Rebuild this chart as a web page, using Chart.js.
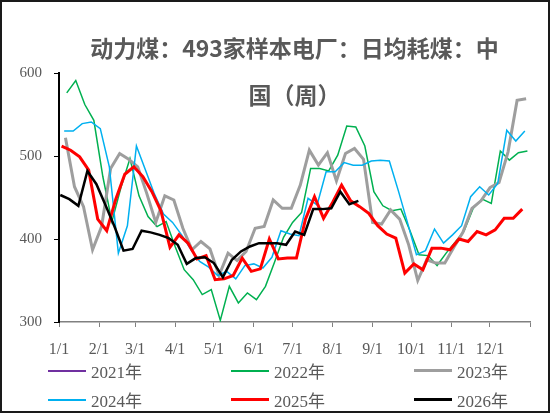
<!DOCTYPE html>
<html>
<head>
<meta charset="utf-8">
<script src="https://cdn.jsdelivr.net/npm/chart.js@4.4.1/dist/chart.umd.min.js"></script>
<style>
  html, body { margin: 0; padding: 0; background: #fff; }
  #wrap { position: relative; width: 550px; height: 413px; overflow: hidden; background: #fff; }
  #chart { position: absolute; left: 0; top: 0; }
  #frame { position: absolute; inset: 0; border: 2px solid #1a1a1a; pointer-events: none; }
  #title {
    position: absolute; left: 59px; width: 471px; top: 24px;
    text-align: center;
    font: bold 23px "Noto Sans CJK SC", sans-serif; color: #595959;
    line-height: 47px;
  }
  #legend {
    position: absolute; left: 48px; top: 356px;
    display: grid; grid-template-columns: repeat(3, 183px); grid-auto-rows: 29px;
  }
  #legend .item { display: flex; align-items: center; }
  #legend .swatch { width: 38px; margin-right: 5px; }
  #legend .text { font: 17px "Liberation Serif", "Noto Sans CJK SC", serif; color: #595959; }
</style>
</head>
<body>
<div id="wrap">
  <canvas id="chart" width="550" height="413"></canvas>
  <div id="title"></div>
  <div id="legend"></div>
  <div id="frame"></div>
</div>
<script>
// 标题和坐标轴
const titleLines = ['动力煤：493家样本电厂：日均耗煤：中', '国（周）'];
const monthLabels = ['1/1', '2/1', '3/1', '4/1', '5/1', '6/1', '7/1', '8/1', '9/1', '10/1', '11/1', '12/1'];
const monthStartDays = [0, 31, 59, 90, 120, 151, 181, 212, 243, 273, 304, 334];
const daysInYear = 365;
const yTicks = [300, 400, 500, 600];

// 每年一条线，周度数据（第一个周五的年内天数）
const seriesNames = ['2021年', '2022年', '2023年', '2024年', '2025年', '2026年'];
const firstReadingDay = [0, 6, 5, 4, 2, 1];

const values2021 = [];
const values2022 = [576, 591, 562, 543, 475, 421, 462, 497, 452, 427, 415, 421, 391, 363, 351, 333, 339, 302, 343, 323,
  335, 327, 343, 372, 402, 420, 432, 485, 485, 482, 501, 536, 535, 512, 457, 440, 434, 436, 410, 381,
  380, 368, 383, 396, 410, 437, 448, 443, 506, 495, 504, 506];
const values2023 = [522, 463, 439, 387, 415, 485, 503, 496, 487, 455, 420, 452, 447, 413, 387, 397, 388, 356, 383, 374,
  385, 413, 415, 447, 437, 437, 465, 507, 489, 504, 470, 503, 509, 496, 420, 418, 435, 424, 393, 350,
  375, 371, 371, 390, 408, 437, 446, 462, 468, 505, 567, 569];
const values2024 = [530, 530, 539, 541, 533, 487, 383, 416, 512, 483, 454, 430, 420, 405, 388, 373, 366, 356, 361, 352,
  368, 370, 365, 378, 410, 406, 404, 449, 441, 481, 481, 492, 489, 489, 494, 495, 494, 458, 420, 381,
  386, 412, 395, 405, 416, 451, 463, 453, 467, 531, 518, 530];
const values2025 = [512, 507, 499, 483, 424, 410, 448, 478, 487, 475, 457, 434, 390, 405, 395, 376, 380, 351, 352, 356,
  377, 361, 364, 400, 376, 377, 377, 424, 451, 425, 444, 465, 446, 439, 431, 416, 406, 401, 359, 370,
  363, 389, 389, 387, 400, 397, 409, 405, 411, 425, 425, 436];
const values2026 = [453, 448, 440, 482, 466, 441, 415, 386, 388, 410, 408, 405, 401, 393, 370, 377, 378, 371, 354, 375,
  385, 391, 395, 395, 395, 393, 409, 405, 436, 436, 437, 457, 442, 446];

const allValues = [values2021, values2022, values2023, values2024, values2025, values2026];
const lineColors = ['#7030a0', '#00b050', '#9e9e9e', '#00b0f0', '#ff0000', '#000000'];
const lineWidths = [1.5, 1.5, 3, 1.5, 3, 2.5];

function toPoints(values, startDay) {
  return values.map((v, i) => ({ x: startDay + 7 * i, y: v }));
}

const datasets = seriesNames.map((name, k) => ({
  label: name,
  data: toPoints(allValues[k], firstReadingDay[k]),
  borderColor: lineColors[k],
  backgroundColor: lineColors[k],
  borderWidth: lineWidths[k],
  order: seriesNames.length - k   // 后面的年份画在上面
}));

const axisFont = { family: '"Liberation Serif", serif', size: 16 };

const chart = new Chart(document.getElementById('chart'), {
  type: 'line',
  data: { datasets },
  options: {
    responsive: false,
    animation: false,
    layout: { padding: { top: 73, right: 20, bottom: 0, left: 0 } },
    plugins: { legend: { display: false }, tooltip: { enabled: false }, title: { display: false } },
    elements: { point: { radius: 0 }, line: { tension: 0 } },
    scales: {
      x: {
        type: 'linear', min: 0, max: daysInYear,
        afterBuildTicks: s => { s.ticks = monthStartDays.concat(daysInYear).map(v => ({ value: v })); },
        afterFit: s => { s.height = 91; },
        grid: { drawOnChartArea: false, tickLength: 5, color: '#808080', lineWidth: 1 },
        border: { color: '#808080', width: 1.5 },
        ticks: {
          autoSkip: false, maxRotation: 0, padding: 13, color: '#595959', font: axisFont,
          callback: v => { const i = monthStartDays.indexOf(v); return i >= 0 ? monthLabels[i] : ''; }
        }
      },
      y: {
        min: yTicks[0], max: yTicks[yTicks.length - 1],
        afterBuildTicks: s => { s.ticks = yTicks.map(v => ({ value: v })); },
        afterFit: s => { s.width = 59; },
        grid: { drawOnChartArea: false, tickLength: 5, color: '#000' },
        border: { color: '#000', width: 2 },
        ticks: { padding: 12, color: '#595959', font: { family: '"Liberation Serif", serif', size: 15 } }
      }
    }
  }
});

// 标题
const titleBox = document.getElementById('title');
titleLines.forEach(t => {
  const d = document.createElement('div');
  d.textContent = t;
  titleBox.appendChild(d);
});

// 图例（三列）
const legendBox = document.getElementById('legend');
chart.data.datasets.forEach(ds => {
  const item = document.createElement('div');
  item.className = 'item';
  const swatch = document.createElement('span');
  swatch.className = 'swatch';
  swatch.style.background = ds.borderColor;
  swatch.style.height = Math.max(2, ds.borderWidth) + 'px';
  const text = document.createElement('span');
  text.className = 'text';
  text.textContent = ds.label;
  item.appendChild(swatch);
  item.appendChild(text);
  legendBox.appendChild(item);
});
</script>
</body>
</html>
